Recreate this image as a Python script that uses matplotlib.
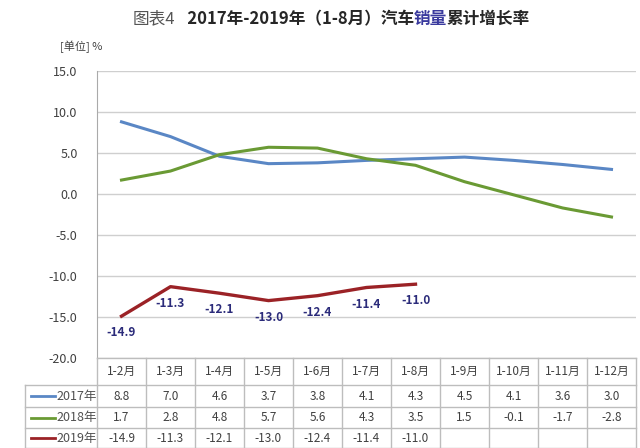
import matplotlib
matplotlib.use("Agg")
import matplotlib.pyplot as plt
import numpy as np
from matplotlib.transforms import blended_transform_factory

plt.rcParams['font.family'] = ['Noto Sans CJK SC', 'DejaVu Sans']

# data
months = ['1-2月', '1-3月', '1-4月', '1-5月', '1-6月', '1-7月', '1-8月',
          '1-9月', '1-10月', '1-11月', '1-12月']
series_names = ['2017年', '2018年', '2019年']
v2017 = [8.8, 7.0, 4.6, 3.7, 3.8, 4.1, 4.3, 4.5, 4.1, 3.6, 3.0]
v2018 = [1.7, 2.8, 4.8, 5.7, 5.6, 4.3, 3.5, 1.5, -0.1, -1.7, -2.8]
v2019 = [-14.9, -11.3, -12.1, -13.0, -12.4, -11.4, -11.0]
colors = ['#5A87C5', '#6A9A34', '#9B2226']

W, H = 640, 448
fig = plt.figure(figsize=(W / 100, H / 100), dpi=100)
fig.patch.set_facecolor('white')
ax = fig.add_axes([97 / W, 90 / H, (636 - 97) / W, 287 / H])

x = np.arange(len(months))
ax.plot(x, v2017, color=colors[0], lw=2.2)
ax.plot(x, v2018, color=colors[1], lw=2.2)
ax.plot(x[:len(v2019)], v2019, color=colors[2], lw=2.4)

for xi, v in zip(x, v2019):
    ax.annotate(f'{v:.1f}', (xi, v), xytext=(0, -12), textcoords='offset points',
                ha='center', va='center', fontsize=8.5, fontweight='bold',
                color='#2B2B7A')

ax.set_xlim(-0.5, len(months) - 0.5)
ax.set_ylim(-20, 15)
ax.set_yticks(np.arange(-20, 16, 5))
ax.set_yticklabels([f'{t:.1f}' for t in np.arange(-20, 16, 5)], fontsize=9, color='#404040')
ax.set_xticks([])
ax.tick_params(axis='y', length=0, pad=14)
ax.grid(axis='y', color='#CFCFCF', lw=1)
for s in ['top', 'right', 'bottom']:
    ax.spines[s].set_visible(False)
ax.spines['left'].set_color('#AAAAAA')
ax.set_axisbelow(True)

# table under the chart
tr = blended_transform_factory(ax.transData, ax.transAxes)
ftr = fig.transFigure
row_px = [358, 385, 407, 428, 448]
row_y = [(H - p) / H for p in row_px]
grid_c = '#BDBDBD'
x_left = 25 / W
x_ax = 97 / W
x_right = 636 / W
for i, y in enumerate(row_y):
    x0 = x_ax if i == 0 else x_left
    fig.add_artist(plt.Line2D([x0, x_right], [y, y], transform=ftr, color=grid_c, lw=1))
# vertical lines
fig.add_artist(plt.Line2D([x_left, x_left], [row_y[1], row_y[-1]], transform=ftr, color=grid_c, lw=1))
for k in range(len(months) + 1):
    xd = k - 0.5
    xf = ftr.inverted().transform(ax.transData.transform((xd, 0)))[0]
    fig.add_artist(plt.Line2D([xf, xf], [row_y[0], row_y[-1]], transform=ftr, color=grid_c, lw=1))

def cy(i):
    return (row_y[i] + row_y[i + 1]) / 2

for k, m in enumerate(months):
    xf = ftr.inverted().transform(ax.transData.transform((k, 0)))[0]
    fig.text(xf, cy(0), m, ha='center', va='center', fontsize=8.5, color='#404040')
    for r, vals in enumerate([v2017, v2018, v2019]):
        if k < len(vals):
            fig.text(xf, cy(r + 1), f'{vals[k]:.1f}', ha='center', va='center',
                     fontsize=8.5, color='#404040')

for r, name in enumerate(series_names):
    y = cy(r + 1)
    fig.add_artist(plt.Line2D([31 / W, 55 / W], [y, y], transform=ftr, color=colors[r], lw=2))
    fig.text(56 / W, y, name, ha='left', va='center', fontsize=9, color='#505050')

# unit label
fig.text(60 / W, (H - 47) / H, '[单位] %', ha='left', va='center', fontsize=8, color='#404040')

# title with coloured word
pieces = [('图表4', '#555555', 'normal'),
          ('   2017年-2019年（1-8月）汽车', '#262626', 'bold'),
          ('销量', '#3A3A9E', 'bold'),
          ('累计增长率', '#262626', 'bold')]
renderer = fig.canvas.get_renderer()
xpix = 133
for txt, c, w in pieces:
    t = fig.text(xpix / W, (H - 19) / H, txt, ha='left', va='center', fontsize=12,
                 color=c, fontweight=w)
    bb = t.get_window_extent(renderer=renderer)
    xpix = bb.x1

fig.savefig('out.png', dpi=100, facecolor='white')
